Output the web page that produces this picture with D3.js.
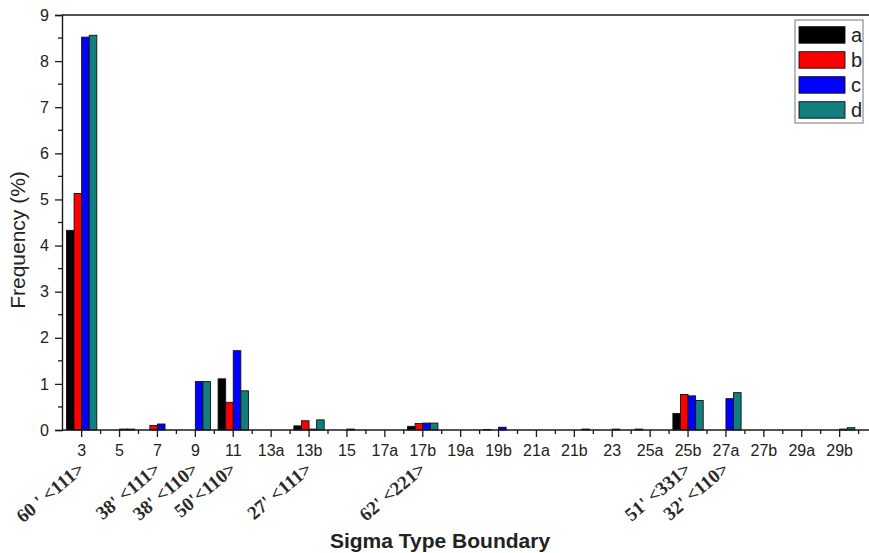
<!DOCTYPE html>
<html>
<head>
<meta charset="utf-8">
<script src="https://cdn.jsdelivr.net/npm/d3@7"></script>
<style>
  html, body { margin: 0; padding: 0; background: #fff; }
  svg { display: block; }
</style>
</head>
<body>
<svg id="chart" width="869" height="553"></svg>
<script>
// Sigma boundary categories and the misorientation notes shown under some of them
const categories = ["3","5","7","9","11","13a","13b","15","17a","17b","19a","19b","21a","21b","23","25a","25b","27a","27b","29a","29b"];
const orientationNotes = [
  ["3", "60 ' <111>"], ["7", "38' <111>"], ["9", "38' <110>"], ["11", "50'<110>"],
  ["13b", "27' <111>"], ["17b", "62' <221>"], ["25b", "51' <331>"], ["27a", "32' <110>"]
];

// Frequency (%) for each sample, in category order
const seriesA = [4.33, 0,    0,    0,    1.11, 0, 0.09, 0,    0, 0.08, 0, 0.01, 0, 0,    0,    0.02, 0.36, 0,    0, 0, 0];
const seriesB = [5.13, 0,    0.10, 0,    0.60, 0, 0.20, 0,    0, 0.14, 0, 0,    0, 0,    0,    0,    0.77, 0,    0, 0, 0];
const seriesC = [8.52, 0.02, 0.13, 1.05, 1.72, 0, 0.02, 0.02, 0, 0.15, 0, 0.06, 0, 0,    0.02, 0,    0.74, 0.68, 0, 0, 0.02];
const seriesD = [8.56, 0.02, 0,    1.05, 0.85, 0, 0.22, 0,    0, 0.15, 0, 0,    0, 0.02, 0,    0,    0.64, 0.81, 0, 0, 0.05];

const seriesNames = ["a", "b", "c", "d"];
const seriesColors = ["#000000", "#ff0000", "#0000ff", "#127f7f"];
const yTicks = [0, 1, 2, 3, 4, 5, 6, 7, 8, 9];

const series = [seriesA, seriesB, seriesC, seriesD];
const rows = categories.map((c, i) => ({ cat: c, vals: series.map(s => s[i]) }));

const svg = d3.select("#chart");
const W = 869;
const axisX = 62, plotTop = 15, baseY = 430;
const axisColor = "#1a1a1a";
const sans = "Liberation Sans, Arial, sans-serif";

const x0 = d3.scaleBand().domain(categories).range([62.7, 62.7 + 37.9 * categories.length]).padding(0);
const x1 = d3.scaleBand().domain(seriesNames)
  .range([x0.bandwidth() * 0.1, x0.bandwidth() * 0.9]).padding(0);
const y = d3.scaleLinear().domain([0, 9]).range([baseY, plotTop]);

// bars
const groups = svg.append("g").selectAll("g").data(rows).join("g")
  .attr("transform", d => `translate(${x0(d.cat)},0)`);
groups.selectAll("rect")
  .data(d => d.vals.map((v, k) => ({ v, k })).filter(e => e.v > 0))
  .join("rect")
  .attr("x", e => x1(seriesNames[e.k]))
  .attr("width", x1.bandwidth())
  .attr("y", e => y(e.v))
  .attr("height", e => baseY - y(e.v))
  .attr("fill", e => seriesColors[e.k])
  .attr("stroke", "#111")
  .attr("stroke-width", 0.9);

// top border
svg.append("line").attr("x1", axisX).attr("x2", W).attr("y1", plotTop).attr("y2", plotTop)
  .attr("stroke", axisColor).attr("stroke-width", 1.4);

// y axis
const yAxis = d3.axisLeft(y).tickValues(yTicks).tickSize(7).tickPadding(6).tickFormat(d3.format("d"));
const yg = svg.append("g").attr("transform", `translate(${axisX},0)`).call(yAxis);
yg.select(".domain").attr("stroke", axisColor).attr("stroke-width", 1.4);
yg.selectAll(".tick line").attr("stroke", axisColor).attr("stroke-width", 1.3);
yg.selectAll(".tick text").attr("font-family", sans)
  .attr("font-size", 16).attr("fill", "#222");
const yMinor = d3.range(0.5, 9, 1);
svg.append("g").selectAll("line").data(yMinor).join("line")
  .attr("x1", axisX - 4).attr("x2", axisX).attr("y1", d => y(d)).attr("y2", d => y(d))
  .attr("stroke", axisColor).attr("stroke-width", 1.3);

// x axis
const xAxis = d3.axisBottom(x0).tickSize(7).tickPadding(8);
const xg = svg.append("g").attr("transform", `translate(0,${baseY})`).call(xAxis);
xg.select(".domain").remove();
xg.selectAll(".tick line").attr("stroke", axisColor).attr("stroke-width", 1.3);
xg.selectAll(".tick text").attr("font-family", sans)
  .attr("font-size", 16).attr("fill", "#222");
svg.append("line").attr("x1", axisX).attr("x2", W).attr("y1", baseY).attr("y2", baseY)
  .attr("stroke", axisColor).attr("stroke-width", 1.4);
const xMinor = categories.slice(1).map(c => x0(c)).concat([x0.range()[1]]);
svg.append("g").selectAll("line").data(xMinor).join("line")
  .attr("x1", d => d).attr("x2", d => d).attr("y1", baseY).attr("y2", baseY + 4)
  .attr("stroke", axisColor).attr("stroke-width", 1.3);

// slanted orientation notes
svg.append("g").selectAll("text").data(orientationNotes).join("text")
  .attr("transform", d => `translate(${x0(d[0]) + x0.bandwidth() / 2 + 4},${471}) rotate(-40)`)
  .attr("text-anchor", "end")
  .attr("font-family", "Liberation Serif, Times New Roman, serif")
  .attr("font-weight", "bold")
  .attr("font-size", 19)
  .attr("fill", "#2a2a2a")
  .text(d => d[1]);

// axis titles
svg.append("text")
  .attr("x", 440).attr("y", 548)
  .attr("text-anchor", "middle")
  .attr("font-family", sans)
  .attr("font-weight", "bold").attr("font-size", 21).attr("fill", "#222")
  .text("Sigma Type Boundary");
svg.append("text")
  .attr("transform", "translate(25,240) rotate(-90)")
  .attr("text-anchor", "middle")
  .attr("font-family", sans)
  .attr("font-size", 21).attr("fill", "#222")
  .text("Frequency (%)");

// legend
const lg = svg.append("g");
lg.append("rect").attr("x", 795).attr("y", 20).attr("width", 68).attr("height", 103)
  .attr("fill", "#fff").attr("stroke", "#777").attr("stroke-width", 1);
const items = lg.selectAll("g").data(seriesNames).join("g")
  .attr("transform", (d, i) => `translate(799,${26.7 + i * 25})`);
items.append("rect").attr("width", 46).attr("height", 16.5)
  .attr("fill", (d, i) => seriesColors[i]).attr("stroke", "#111").attr("stroke-width", 0.9);
items.append("text").attr("x", 52).attr("y", 15)
  .attr("font-family", sans)
  .attr("font-size", 20).attr("fill", "#222")
  .text(d => d);
</script>
</body>
</html>
